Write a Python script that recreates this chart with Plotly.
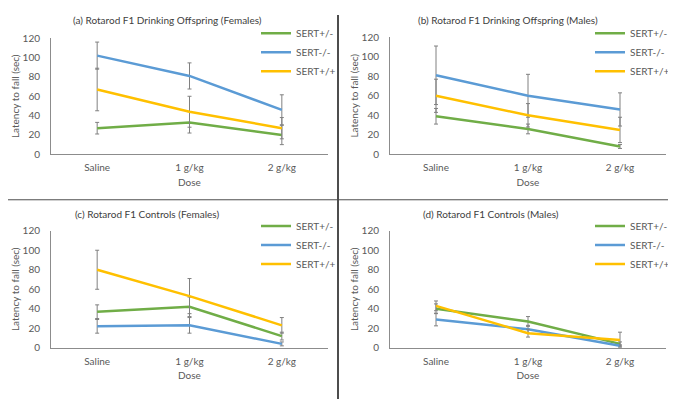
import plotly.graph_objects as go

W, H = 676, 399

doses = ["Saline", "1 g/kg", "2 g/kg"]
series_names = ["SERT+/-", "SERT-/-", "SERT+/+"]
colors = ["#70AD47", "#5B9BD5", "#FFC000"]

panel_titles = [
    "(a) Rotarod F1 Drinking Offspring (Females)",
    "(b) Rotarod F1 Drinking Offspring (Males)",
    "(c) Rotarod F1 Controls (Females)",
    "(d) Rotarod F1 Controls (Males)",
]

# values per panel: [SERT+/-, SERT-/-, SERT+/+]
a_het = [27, 33, 20]
a_ko = [102, 81, 46]
a_wt = [67, 44, 27]
a_het_err = [6, 11, 10]
a_ko_err = [14, 13.5, 15.5]
a_wt_err = [22, 16, 11]

b_het = [39, 26, 8]
b_ko = [81, 60, 46]
b_wt = [60, 40, 25]
b_het_err = [8, 5, 2]
b_ko_err = [30, 22, 17]
b_wt_err = [17, 12, 13]

c_het = [37, 42, 12]
c_ko = [22, 23, 4]
c_wt = [80, 53, 23]
c_het_err = [7, 10, 4]
c_ko_err = [7, 8, 2]
c_wt_err = [20, 18, 8]

d_het = [40, 27, 4]
d_ko = [29, 19, 2]
d_wt = [43, 15, 8]
d_het_err = [5, 5, 2]
d_ko_err = [6.5, 4, 1]
d_wt_err = [5, 4, 8]

panels = [
    ([a_het, a_ko, a_wt], [a_het_err, a_ko_err, a_wt_err]),
    ([b_het, b_ko, b_wt], [b_het_err, b_ko_err, b_wt_err]),
    ([c_het, c_ko, c_wt], [c_het_err, c_ko_err, c_wt_err]),
    ([d_het, d_ko, d_wt], [d_het_err, d_ko_err, d_wt_err]),
]

# layout positions in screen pixels: (left, right, y_of_0, y_of_120)
boxes = [
    (51, 328, 152, 32),
    (390, 666, 152, 31),
    (51, 328, 352, 231),
    (390, 666, 352, 231),
]
title_pos = [(167, 13), (508, 13), (147, 214), (491, 214)]
legend_pos = [(256, 12), (590, 12), (256, 211), (590, 211)]

FONT = "Lato, 'Open Sans', sans-serif"
OFF = 8  # page body margin offset

def px(x):
    return (x - OFF) / W

def py(y):
    return 1 - (y - OFF) / H

fig = go.Figure()
layout = dict(
    width=W, height=H,
    margin=dict(l=0, r=0, t=0, b=0),
    paper_bgcolor="white", plot_bgcolor="white",
    font=dict(family=FONT, size=10, color="#595959"),
    annotations=[], shapes=[],
)

for i, ((vals, errs), box) in enumerate(zip(panels, boxes)):
    n = "" if i == 0 else str(i + 1)
    legname = "legend" if i == 0 else f"legend{i+1}"
    for s in range(3):
        fig.add_trace(go.Scatter(
            x=doses, y=vals[s], name=series_names[s], mode="lines",
            line=dict(color=colors[s], width=2.5),
            error_y=dict(type="data", array=errs[s], color="#808080", thickness=1, width=2),
            xaxis="x" + n, yaxis="y" + n, legend=legname,
        ))
    l, r, y0, y120 = box
    layout["xaxis" + n] = dict(
        domain=[px(l), px(r)], anchor="y" + n, type="category",
        range=[-0.5, 2.5], showline=True, linecolor="#8C8C8C", linewidth=1,
        showgrid=False, ticks="", ticklabelstandoff=4,
        title=dict(text="Dose", font=dict(size=10, color="#595959"), standoff=6),
        tickfont=dict(size=10, color="#595959"),
    )
    layout["yaxis" + n] = dict(
        domain=[py(y0), py(y120)], anchor="x" + n, range=[0, 120],
        tickvals=[0, 20, 40, 60, 80, 100, 120],
        showline=True, linecolor="#8C8C8C", linewidth=1,
        showgrid=False, ticks="", zeroline=False, ticklabelstandoff=8,
        title=dict(text="Latency to fall (sec)", font=dict(size=10, color="#595959"), standoff=1),
        tickfont=dict(size=10, color="#595959"),
    )
    lx, ly = legend_pos[i]
    layout[legname] = dict(
        x=px(lx), y=py(ly), xanchor="left", yanchor="top",
        bgcolor="rgba(0,0,0,0)", font=dict(size=10, color="#595959"),
        itemwidth=30, tracegroupgap=0,
    )
    tx, ty = title_pos[i]
    layout["annotations"].append(dict(
        text=panel_titles[i], x=px(tx), y=py(ty), xref="paper", yref="paper",
        xanchor="center", yanchor="middle", showarrow=False,
        font=dict(size=10, color="#404040"),
    ))

# panel dividers
layout["shapes"].append(dict(type="line", xref="paper", yref="paper",
                             x0=px(338), x1=px(338), y0=0, y1=1,
                             line=dict(color="#4D4D4D", width=2)))
layout["shapes"].append(dict(type="line", xref="paper", yref="paper",
                             x0=0, x1=1, y0=py(199), y1=py(199),
                             line=dict(color="#4D4D4D", width=1)))

fig.update_layout(**layout)
fig.write_html("out.html")
